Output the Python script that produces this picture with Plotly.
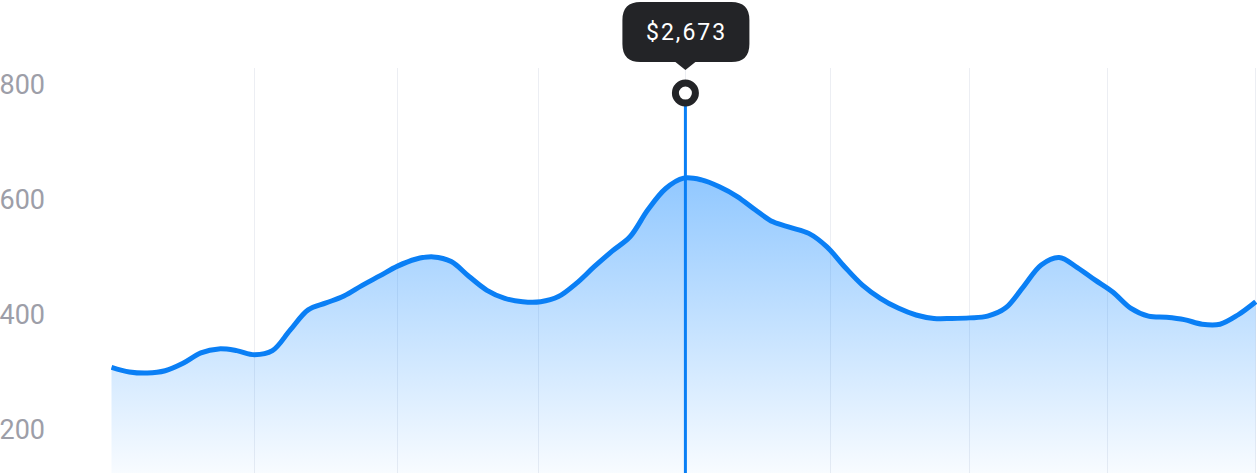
import plotly.graph_objects as go

# ---- data ----
x_index = list(range(65))
values = [309, 301, 299, 303, 316, 334, 341, 338, 331, 338,
          374, 409, 421, 433, 451, 468, 485, 497, 501, 493,
          467, 443, 429, 423, 423, 432, 455, 484, 511, 536,
          583, 620, 638, 635, 623, 606, 583, 562, 552, 542,
          519, 484, 452, 429, 412, 400, 394, 394, 395, 398,
          412, 449, 487, 500, 483, 461, 440, 412, 398, 396,
          392, 384, 384, 400, 423]
y_ticks = [200, 400, 600, 800]
y_tick_labels = ["200", "400", "600", "800"]
grid_positions = [0, 8, 16, 23.9, 32.1, 40.2, 48, 55.7, 64]
hover_x = 32.1
hover_top_value = 786
tooltip_label = "$2,673"
y_range = [125.2, 829.6]
x_range = [-0.028, 64.07]

LINE = "#0a7ff5"
DARK = "#232427"

fig = go.Figure()

fig.add_trace(go.Scatter(
    x=x_index, y=values, mode="lines",
    line=dict(color=LINE, width=5, shape="spline", smoothing=1.0),
    fill="tozeroy",
    fillgradient=dict(type="vertical",
                      colorscale=[[0, "rgba(10,132,255,0.03)"], [1, "rgba(10,132,255,0.45)"]],
                      start=y_range[0], stop=640),
    hoverinfo="skip", showlegend=False,
))

# vertical cursor line
fig.add_trace(go.Scatter(
    x=[hover_x, hover_x], y=[hover_top_value, y_range[0]], mode="lines",
    line=dict(color=LINE, width=3), hoverinfo="skip", showlegend=False,
))

# cursor marker
fig.add_trace(go.Scatter(
    x=[hover_x], y=[hover_top_value], mode="markers",
    marker=dict(size=20, color="white", line=dict(color=DARK, width=7)),
    hoverinfo="skip", showlegend=False, cliponaxis=False,
))

# tooltip bubble (pixel-sized path anchored at the cursor x, top of plot)
r = 18
L, R, T, B = -63, 64, 66, 6
path = (f"M {L+r},{T} L {R-r},{T} Q {R},{T} {R},{T-r} L {R},{B+r} Q {R},{B} {R-r},{B} "
        f"L 10,{B} L 0,-2 L -10,{B} L {L+r},{B} Q {L},{B} {L},{B+r} L {L},{T-r} Q {L},{T} {L+r},{T} Z")
fig.add_shape(type="path", path=path, xref="x", yref="paper",
              xsizemode="pixel", ysizemode="pixel", xanchor=hover_x, yanchor=1,
              fillcolor=DARK, line=dict(width=0), layer="above")
fig.add_annotation(x=hover_x, xref="x", y=1, yref="paper", yanchor="middle",
                   yshift=36, xshift=1,
                   text=f'<span style="letter-spacing:2px">{tooltip_label}</span>',
                   showarrow=False,
                   font=dict(family="Roboto", size=23, color="white"))

fig.update_layout(
    width=1257, height=473, autosize=False,
    margin=dict(l=111, r=0, t=68, b=0),
    paper_bgcolor="white", plot_bgcolor="white",
    font=dict(family="Roboto"),
    xaxis=dict(range=x_range, tickvals=grid_positions, showticklabels=False,
               showgrid=True, gridcolor="#eceef3", gridwidth=1, zeroline=False,
               showline=False, ticks=""),
    yaxis=dict(range=y_range, tickvals=y_ticks, ticktext=y_tick_labels,
               showgrid=False, zeroline=False, showline=False, ticks="",
               ticklabelstandoff=65,
               tickfont=dict(family="Roboto", size=27, color="#9d9ea8")),
)

fig.write_html("out.html", config={"displayModeBar": False},
               post_script="document.body.style.margin='0';")
